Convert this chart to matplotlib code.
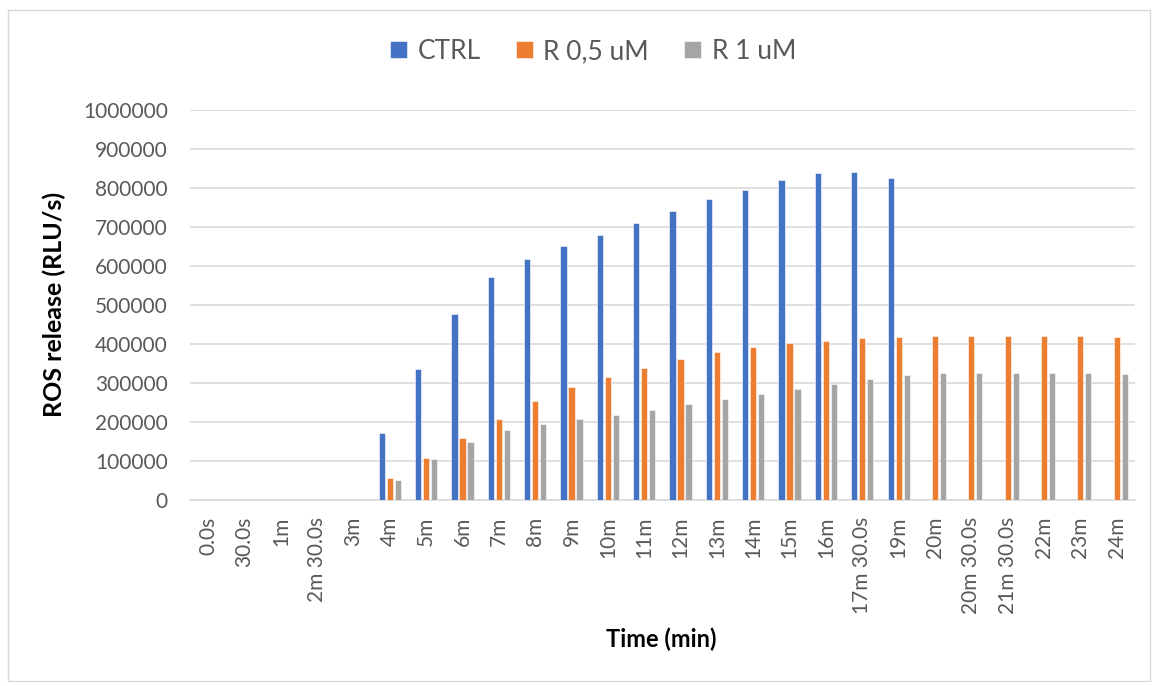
import matplotlib.pyplot as plt
import numpy as np
from matplotlib.patches import Rectangle

times = ["0.0s", "30.0s", "1m", "2m 30.0s", "3m", "4m", "5m", "6m", "7m", "8m",
         "9m", "10m", "11m", "12m", "13m", "14m", "15m", "16m", "17m 30.0s",
         "19m", "20m", "20m 30.0s", "21m 30.0s", "22m", "23m", "24m"]

ctrl = [0, 0, 0, 0, 0, 171800, 335000, 477000, 572600, 618900,
        651300, 678600, 709400, 741900, 771800, 794900, 818800, 837600, 841000,
        825600, 0, 0, 0, 0, 0, 0]
r05 = [0, 0, 0, 0, 0, 56400, 106900, 158000, 206800, 254700,
       289700, 316200, 338500, 362400, 378600, 391500, 401700, 407700, 415400,
       417100, 419700, 421400, 419700, 419700, 420500, 417100]
r1 = [0, 0, 0, 0, 0, 51300, 106000, 148700, 179500, 194900,
      206800, 217900, 230800, 245300, 259800, 272600, 285500, 296600, 310300,
      320500, 324800, 325600, 324800, 326500, 326500, 324000]

series = [("CTRL", ctrl, "#4472C4"), ("R 0,5 uM", r05, "#ED7D31"), ("R 1 uM", r1, "#A5A5A5")]

plt.rcParams['font.family'] = ['Lato', 'DejaVu Sans']

fig = plt.figure(figsize=(11.58, 6.86), dpi=100)
ax = fig.add_axes([0.164, 0.271, 0.816, 0.569])

x = np.arange(len(times))
w = 0.17
step = 0.22
for i, (name, vals, col) in enumerate(series):
    ax.bar(x + (i - 1) * step, vals, width=w, color=col, label=name,
           edgecolor="white", linewidth=0.4, zorder=3)

ax.set_xlim(-0.5, len(times) - 0.5)
ax.set_ylim(0, 1000000)
ax.set_yticks(np.arange(0, 1000001, 100000))
ax.set_yticklabels([str(v) for v in range(0, 1000001, 100000)])
ax.grid(axis="y", color="#D9D9D9", linewidth=1.2, zorder=0)
ax.set_xticks(x)
ax.set_xticklabels(times, rotation=90)
ax.tick_params(axis="both", length=0, labelsize=15, colors="#595959")
ax.tick_params(axis="x", pad=12)
ax.tick_params(axis="y", pad=16)
for s in ["top", "right", "left"]:
    ax.spines[s].set_visible(False)
ax.spines["bottom"].set_color("#D9D9D9")
ax.spines["bottom"].set_linewidth(1.2)

ax.set_ylabel("ROS release (RLU/s)", fontsize=18, fontweight="bold", labelpad=12)
fig.text(0.571, 0.068, "Time (min)", fontsize=17, fontweight="bold", ha="center", va="center")

fig.legend(loc="center", bbox_to_anchor=(0.512, 0.925), ncol=3, frameon=False,
           fontsize=19, handlelength=0.65, handleheight=0.65, handletextpad=0.4,
           columnspacing=1.33, labelcolor="#595959")

fig.patches.append(Rectangle((0.007, 0.008), 0.986, 0.978, transform=fig.transFigure,
                             fill=False, edgecolor="#D9D9D9", linewidth=1))

fig.savefig("out.png", dpi=100)
